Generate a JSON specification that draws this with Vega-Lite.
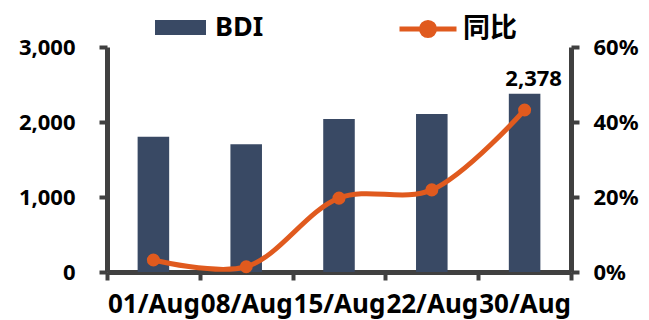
{
  "$schema": "https://vega.github.io/schema/vega-lite/v6.json",
  "width": 464,
  "height": 225,
  "autosize": {"type": "none"},
  "padding": {"left": 107, "top": 47, "right": 78, "bottom": 48},
  "background": "white",
  "config": {"view": {"stroke": null}, "font": "Noto Sans, Noto Sans CJK SC"},
  "data": {"values": [
    {"date": "01/Aug", "bdi": 1804, "yoy": 0.032},
    {"date": "08/Aug", "bdi": 1703, "yoy": 0.014},
    {"date": "15/Aug", "bdi": 2040, "yoy": 0.197},
    {"date": "22/Aug", "bdi": 2107, "yoy": 0.219},
    {"date": "30/Aug", "bdi": 2378, "yoy": 0.432}
  ]},
  "encoding": {
    "x": {"field": "date", "type": "nominal", "sort": null,
      "scale": {"paddingInner": 0, "paddingOuter": 0},
      "axis": {"title": null, "domainColor": "#404040", "domainWidth": 5, "tickColor": "#404040", "tickWidth": 4, "tickSize": 8, "tickBand": "extent", "labelAngle": 0, "labelFontSize": 26, "labelFontWeight": "bold", "labelColor": "black", "labelPadding": 11, "labelOverlap": false, "labelLimit": 0}}
  },
  "layer": [
    {
      "encoding": {
        "y": {"field": "bdi", "type": "quantitative", "scale": {"domain": [0, 3000]},
          "axis": {"title": null, "values": [0, 1000, 2000, 3000], "format": ",.0f", "grid": false, "domainColor": "#404040", "domainWidth": 5, "tickColor": "#404040", "tickWidth": 4, "tickSize": 8, "labelFontSize": 22, "labelFontWeight": "bold", "labelColor": "black", "labelPadding": 24}}
      },
      "layer": [
        {
          "mark": {"type": "bar", "width": {"band": 0.34}},
          "encoding": {
            "color": {"datum": "BDI", "scale": {"range": ["#394964"]},
              "legend": {"orient": "none", "legendX": 48, "legendY": -45, "title": null, "padding": 0, "symbolType": "M-1,-0.294L1,-0.294L1,0.294L-1,0.294Z", "symbolSize": 2601, "symbolStrokeWidth": 0, "labelFontSize": 27, "labelFontWeight": "bold", "labelColor": "black", "labelOffset": 9}}
          }
        },
        {
          "transform": [{"filter": "datum.date == '30/Aug'"}],
          "mark": {"type": "text", "dx": 9, "dy": -8, "baseline": "alphabetic", "align": "center", "fontSize": 22, "fontWeight": "bold", "color": "black"},
          "encoding": {
            "text": {"field": "bdi", "type": "quantitative", "format": ",.0f"}
          }
        }
      ]
    },
    {
      "mark": {"type": "line", "interpolate": "catmull-rom", "strokeWidth": 5, "point": {"filled": true, "size": 170}},
      "encoding": {
        "y": {"field": "yoy", "type": "quantitative", "scale": {"domain": [0, 0.6]},
          "axis": {"orient": "right", "title": null, "values": [0, 0.2, 0.4, 0.6], "format": ".0%", "grid": false, "domainColor": "#404040", "domainWidth": 5, "tickColor": "#404040", "tickWidth": 4, "tickSize": 8, "labelFontSize": 22, "labelFontWeight": "bold", "labelColor": "black", "labelPadding": 14}},
        "color": {"datum": "同比", "scale": {"range": ["#e05a1e"]},
          "legend": {"orient": "none", "legendX": 290, "legendY": -49, "title": null, "padding": 0, "symbolType": "M-1,0L1,0M-0.23,0A0.23,0.23 0 1,1 0.23,0A0.23,0.23 0 1,1 -0.23,0Z", "symbolSize": 3249, "symbolStrokeWidth": 5, "symbolFillColor": "#e05a1e", "symbolStrokeColor": "#e05a1e", "labelFontSize": 27, "labelFontWeight": "bold", "labelColor": "black", "labelOffset": 4}}
      }
    }
  ],
  "resolve": {"scale": {"y": "independent", "color": "independent"}}
}
